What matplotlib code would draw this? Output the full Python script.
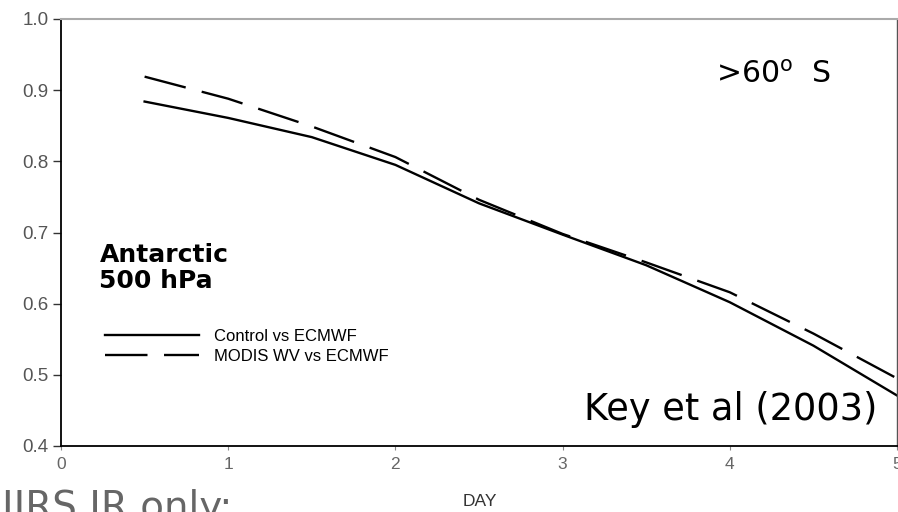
import matplotlib.pyplot as plt

days = [0.5, 1.0, 1.5, 2.0, 2.5, 3.0, 3.5, 4.0, 4.5, 5.0]
control = [0.884, 0.861, 0.834, 0.795, 0.741, 0.697, 0.654, 0.602, 0.541, 0.471]
modis = [0.919, 0.888, 0.849, 0.806, 0.746, 0.698, 0.658, 0.616, 0.558, 0.495]

xticks = [0, 1, 2, 3, 4, 5]
yticks = [0.4, 0.5, 0.6, 0.7, 0.8, 0.9, 1.0]

fig = plt.figure(figsize=(8.98, 5.12), dpi=100)
ax = fig.add_axes([61 / 898, 1 - 446 / 512, 836 / 898, 427 / 512])

ax.plot(days, control, color="black", lw=1.7, label="Control vs ECMWF")
ax.plot(days, modis, color="black", lw=1.7, dashes=(18, 7), label="MODIS WV vs ECMWF")

ax.set_xlim(0, 5)
ax.set_ylim(0.4, 1.0)
ax.set_xticks(xticks)
ax.set_yticks(yticks)
ax.set_xticklabels([str(v) for v in xticks])
ax.set_yticklabels([f"{v:.1f}" for v in yticks])
ax.tick_params(axis="y", labelsize=13.5, labelcolor="#555555", length=6,
               color="#333333", width=1, pad=3)
ax.tick_params(axis="x", labelsize=12.5, labelcolor="#666666", length=3,
               color="#888888", width=0.8, pad=5)
for lab in ax.get_xticklabels() + ax.get_yticklabels():
    lab.set_family("Liberation Sans")

ax.spines["left"].set_linewidth(1.3)
ax.spines["bottom"].set_linewidth(1.3)
ax.spines["top"].set_color("#aaaaaa")
ax.spines["top"].set_linewidth(1.5)
ax.spines["right"].set_color("#555555")
ax.spines["right"].set_linewidth(1.0)

leg = ax.legend(loc="upper left", bbox_to_anchor=(0.035, 0.31), frameon=False,
                handlelength=5.6, handletextpad=0.9, labelspacing=0.3,
                prop={"family": "Liberation Sans", "size": 12})

ax.text(0.23, 0.622, "Antarctic\n500 hPa", fontsize=18, fontweight="bold",
        family="DejaVu Sans", va="baseline", ha="left", linespacing=1.1)

ax.text(3.92, 0.910, ">60$^{\\rm o}$  S", fontsize=21.5, family="DejaVu Sans",
        va="baseline", ha="left")
ax.text(4.88, 0.437, "Key et al (2003)", fontsize=26.5, family="DejaVu Sans",
        va="baseline", ha="right")

fig.text(480 / 898, 1 - 502 / 512, "DAY", fontsize=12.5, color="#333333",
         family="Liberation Sans", ha="center", va="center")
fig.text(2 / 898, 1 - 519 / 512, "IIRS IR only:", fontsize=28, color="#666666",
         family="DejaVu Sans", ha="left", va="baseline")

fig.savefig("out.png", dpi=100)
